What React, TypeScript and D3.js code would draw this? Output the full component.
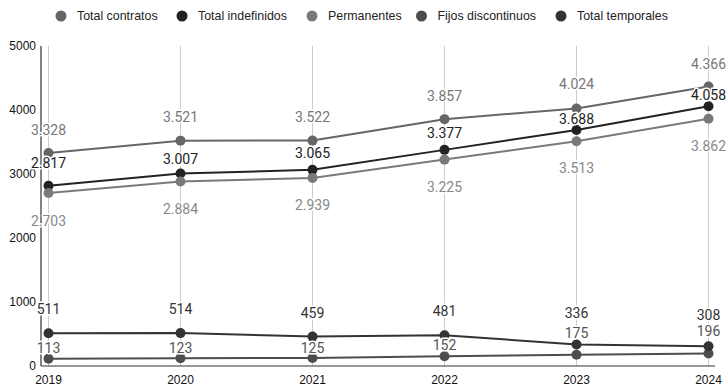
import React from "react";
import * as d3 from "d3";

const years = ["2019", "2020", "2021", "2022", "2023", "2024"];
const totalContratos = [3328, 3521, 3522, 3857, 4024, 4366];
const totalIndefinidos = [2817, 3007, 3065, 3377, 3688, 4058];
const permanentes = [2703, 2884, 2939, 3225, 3513, 3862];
const fijosDiscontinuos = [113, 123, 125, 152, 175, 196];
const totalTemporales = [511, 514, 459, 481, 336, 308];
const yTicks = [0, 1000, 2000, 3000, 4000, 5000];

const W = 728;
const H = 386;

type Series = {
  name: string;
  values: number[];
  color: string;
  labelColor: string;
  labelDy: number[];
};

const series: Series[] = [
  { name: "Total contratos", values: totalContratos, color: "#666", labelColor: "#777", labelDy: [-23, -24, -24, -23, -24, -23] },
  { name: "Total indefinidos", values: totalIndefinidos, color: "#222", labelColor: "#222", labelDy: [-23, -15, -17, -17, -11, -11] },
  { name: "Permanentes", values: permanentes, color: "#7a7a7a", labelColor: "#888", labelDy: [28, 28, 27, 27, 27, 27] },
  { name: "Fijos discontinuos", values: fijosDiscontinuos, color: "#4d4d4d", labelColor: "#555", labelDy: [-11, -10, -10, -11, -22, -22] },
  { name: "Total temporales", values: totalTemporales, color: "#333", labelColor: "#333", labelDy: [-24, -24, -24, -24, -31, -31] },
];

const fmt = (v: number) => {
  const s = String(v);
  return s.length > 3 ? s.slice(0, s.length - 3) + "." + s.slice(s.length - 3) : s;
};

export default function App() {
  const x = d3.scalePoint<string>().domain(years).range([48.5, 708.5]);
  const y = d3.scaleLinear().domain([0, 5000]).range([366, 46]);
  const line = d3
    .line<number>()
    .x((_, i) => x(years[i]) as number)
    .y((d) => y(d));

  const legendX = [61, 182, 312, 421.5, 561];

  return (
    <svg
      width={W}
      height={H}
      style={{ position: "absolute", left: 0, top: 0, background: "#fff" }}
    >
      {/* legend */}
      {series.map((s, i) => (
        <g key={s.name}>
          <circle cx={legendX[i]} cy={16} r={5.5} fill={s.color} />
          <text
            x={legendX[i] + 16}
            y={16}
            dominantBaseline="central"
            fontFamily="'Liberation Sans', Arial, sans-serif"
            fontSize={12.4}
            fill="#222"
          >
            {s.name}
          </text>
        </g>
      ))}

      {/* vertical gridlines */}
      {years.map((yr) => (
        <line
          key={yr}
          x1={x(yr)}
          x2={x(yr)}
          y1={y(5000)}
          y2={y(0)}
          stroke="#cccccc"
          strokeWidth={1}
        />
      ))}

      {/* axes */}
      <line x1={41} x2={41} y1={y(5000)} y2={y(0)} stroke="#333" strokeWidth={1.2} />
      <line x1={41} x2={715} y1={y(0)} y2={y(0)} stroke="#333" strokeWidth={1.2} />

      {yTicks.map((t) => (
        <text
          key={t}
          x={36}
          y={y(t)}
          textAnchor="end"
          dominantBaseline="central"
          fontFamily="'Liberation Sans', Arial, sans-serif"
          fontSize={12}
          fill="#111"
        >
          {t}
        </text>
      ))}
      {years.map((yr) => (
        <text
          key={yr}
          x={x(yr)}
          y={380}
          textAnchor="middle"
          dominantBaseline="central"
          fontFamily="'Liberation Sans', Arial, sans-serif"
          fontSize={12}
          fill="#111"
        >
          {yr}
        </text>
      ))}

      {/* lines */}
      {series.map((s) => (
        <path
          key={s.name}
          d={line(s.values) || ""}
          fill="none"
          stroke={s.color}
          strokeWidth={2}
        />
      ))}
      {series.map((s) =>
        s.values.map((v, i) => (
          <circle
            key={s.name + i}
            cx={x(years[i])}
            cy={y(v)}
            r={5}
            fill={s.color}
          />
        ))
      )}

      {/* data labels */}
      {series.map((s) =>
        s.values.map((v, i) => (
          <text
            key={s.name + "l" + i}
            x={x(years[i])}
            y={y(v) + s.labelDy[i]}
            textAnchor="middle"
            dominantBaseline="central"
            fontFamily="Roboto, sans-serif"
            fontSize={14}
            fill={s.labelColor}
            stroke="#fff"
            strokeWidth={3}
            paintOrder="stroke"
            strokeLinejoin="round"
          >
            {fmt(v)}
          </text>
        ))
      )}
    </svg>
  );
}
